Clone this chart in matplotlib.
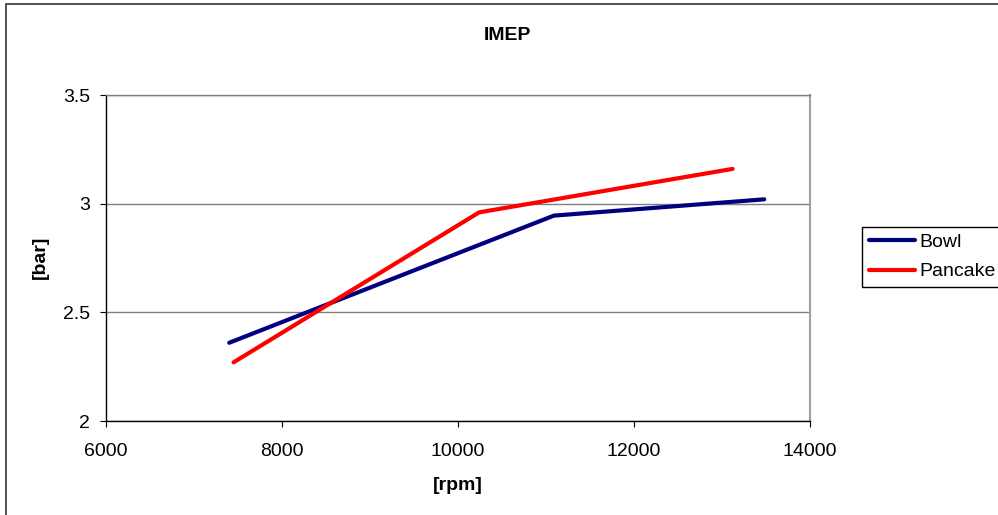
import matplotlib
matplotlib.use("Agg")
import matplotlib.pyplot as plt
from matplotlib.patches import Rectangle

plt.rcParams["font.family"] = ["Liberation Sans", "DejaVu Sans"]

# data
rpm_bowl = [7400, 11090, 13480]
imep_bowl = [2.36, 2.945, 3.02]
rpm_pancake = [7450, 10240, 13120]
imep_pancake = [2.27, 2.96, 3.16]

x_ticks = [6000, 8000, 10000, 12000, 14000]
y_ticks = [2, 2.5, 3, 3.5]

W, H = 998, 515
fig = plt.figure(figsize=(W / 100, H / 100), dpi=100, facecolor="white")
ax = fig.add_axes([106 / W, 1 - 421 / H, 704 / W, 326 / H])

ax.plot(rpm_bowl, imep_bowl, color="#000080", lw=3, label="Bowl",
        solid_capstyle="round", zorder=3)
ax.plot(rpm_pancake, imep_pancake, color="#FF0000", lw=3, label="Pancake",
        solid_capstyle="round", zorder=3)

ax.set_xlim(6000, 14000)
ax.set_ylim(2, 3.5)
ax.set_xticks(x_ticks)
ax.set_yticks(y_ticks)
ax.set_yticklabels([f"{v:g}" for v in y_ticks])
ax.yaxis.grid(True, color="#808080", lw=1.0)
ax.set_axisbelow(True)

ax.spines["left"].set_color("black")
ax.spines["bottom"].set_color("black")
ax.spines["top"].set_color("#808080")
ax.spines["right"].set_color("#a0a0a0")
for s in ax.spines.values():
    s.set_linewidth(1.0)
ax.spines["right"].set_linewidth(1.5)

ax.tick_params(axis="both", direction="out", length=4.5, width=0.8,
               labelsize=14, colors="black")
ax.tick_params(axis="x", pad=11)
ax.tick_params(axis="y", pad=7)
ax.tick_params(top=False, right=False)

fig.text(507 / W, 1 - 35 / H, "IMEP", ha="center", va="center",
         fontsize=14, fontweight="bold")
fig.text(458 / W, 1 - 486 / H, "[rpm]", ha="center", va="center",
         fontsize=14, fontweight="bold")
fig.text(40 / W, 1 - 257 / H, "[bar]", ha="center", va="center",
         fontsize=14, fontweight="bold", rotation=90)

leg = fig.legend(loc="center left", bbox_to_anchor=(862 / W, 1 - 257 / H),
                 bbox_transform=fig.transFigure, borderaxespad=0,
                 fancybox=False, edgecolor="black", framealpha=1,
                 fontsize=14, handlelength=2.4, handletextpad=0.2,
                 borderpad=0.35, labelspacing=0.6)
leg.get_frame().set_linewidth(1.0)

# outer chart frame
fig.add_artist(Rectangle((5.5 / W, -0.1), 1.2, 1.1 - 4.5 / H,
                         transform=fig.transFigure, fill=False,
                         edgecolor="#333333", lw=1.2))

fig.savefig("out.png", dpi=100, facecolor="white")
